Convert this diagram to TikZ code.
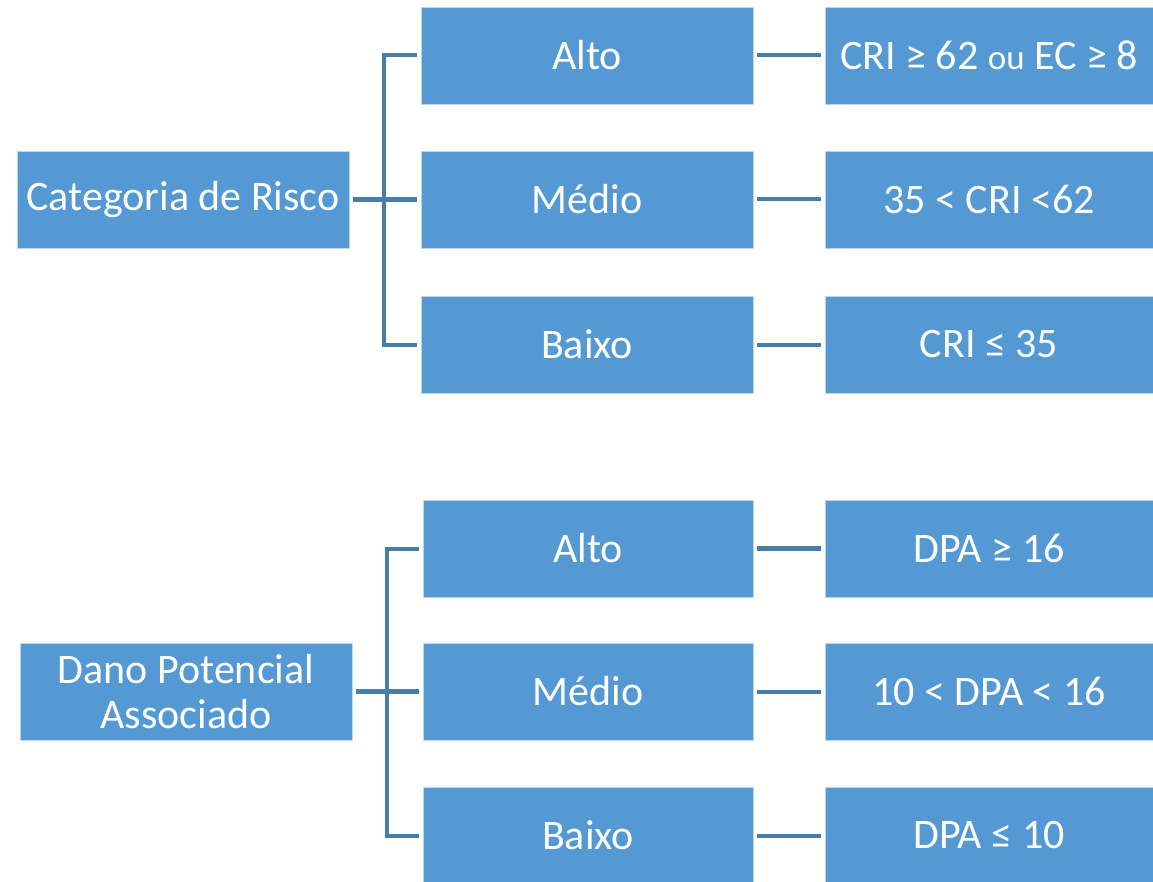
\documentclass[tikz,border=0pt]{standalone}
\usepackage{fontspec}
\setmainfont{Carlito}
\definecolor{boxblue}{RGB}{84,153,211}
\definecolor{boxedge}{RGB}{190,215,238}
\definecolor{linkblue}{RGB}{72,125,170}
\begin{document}
\begin{tikzpicture}[x=1pt,y=-1pt,
  box/.style={rectangle, fill=boxblue, draw=boxedge, line width=0.8pt, text=white,
    minimum height=97pt, inner sep=0pt, align=center,
    font=\fontsize{42}{45}\selectfont},
  wbox/.style={box, minimum width=332pt},
  rbox/.style={box, minimum width=328pt},
  conn/.style={draw=linkblue, line width=4pt},
  main/.style={draw=linkblue, line width=5.5pt}]
\useasboundingbox (0,0) rectangle (1153,882);
% top group
\node[wbox] (cat) at (183,199.5) {Categoria de Risco};
\node[wbox] (a1) at (587,55.5) {Alto};
\node[wbox] (m1) at (587,199.5) {Médio};
\node[wbox] (b1) at (587,344.5) {Baixo};
\node[rbox] (ra1) at (989,55.5) {CRI ≥ 62 {\fontsize{35}{40}\selectfont ou} EC ≥ 8};
\node[rbox] (rm1) at (989,199.5) {35 < CRI <62};
\node[rbox] (rb1) at (989,344.5) {CRI ≤ 35};
\draw[main, shorten <=4pt, shorten >=4pt] (cat.east) -- (m1.west);
\draw[conn, shorten <=4pt, shorten >=4pt] (a1.west) -- ++(-37,0) |- (b1.west);
\draw[conn, shorten <=4pt, shorten >=4pt] (a1.east) -- (ra1.west);
\draw[conn, shorten <=4pt, shorten >=4pt] (m1.east) -- (rm1.west);
\draw[conn, shorten <=4pt, shorten >=4pt] (b1.east) -- (rb1.west);
% bottom group
\node[wbox] (dpa) at (186,691.5) {Dano Potencial\\Associado};
\node[box, minimum width=330pt] (a2) at (588,548.5) {Alto};
\node[box, minimum width=330pt] (m2) at (588,691.5) {Médio};
\node[box, minimum width=330pt] (b2) at (588,835.5) {Baixo};
\node[rbox] (ra2) at (989,548.5) {DPA ≥ 16};
\node[rbox] (rm2) at (989,691.5) {10 < DPA < 16};
\node[rbox] (rb2) at (989,835.5) {DPA ≤ 10};
\draw[main, shorten <=4pt, shorten >=4pt] (dpa.east) -- (m2.west);
\draw[conn, shorten <=4pt, shorten >=4pt] (a2.west) -- ++(-36,0) |- (b2.west);
\draw[main, shorten <=4pt, shorten >=4pt] (a2.east) -- (ra2.west);
\draw[conn, shorten <=4pt, shorten >=4pt] (m2.east) -- (rm2.west);
\draw[conn, shorten <=4pt, shorten >=4pt] (b2.east) -- (rb2.west);
\end{tikzpicture}
\end{document}
